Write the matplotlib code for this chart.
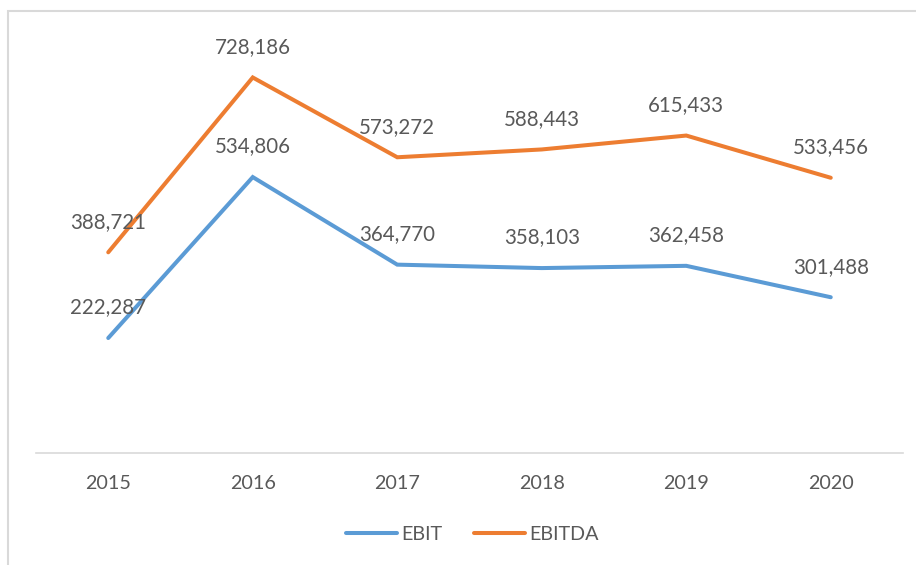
import matplotlib
matplotlib.use("Agg")
import matplotlib.pyplot as plt
from matplotlib.patches import Rectangle
from matplotlib.lines import Line2D

years = ["2015", "2016", "2017", "2018", "2019", "2020"]
ebit = [222287, 534806, 364770, 358103, 362458, 301488]
ebitda = [388721, 728186, 573272, 588443, 615433, 533456]

BLUE = "#5B9BD5"
ORANGE = "#ED7D31"
TEXT = "#595959"
FS = 14.2

plt.rcParams["font.family"] = ["Lato", "DejaVu Sans"]

fig = plt.figure(figsize=(9.16, 5.65), dpi=100)
ax = fig.add_axes([36 / 916, 1 - 452.5 / 565, (903 - 36) / 916, (452.5 - 40.5) / 565])

x = list(range(len(years)))
for vals, color in ((ebit, BLUE), (ebitda, ORANGE)):
    ax.plot(x, vals, color=color, lw=2.9, solid_capstyle="round", solid_joinstyle="miter")
    for xi, v in zip(x, vals):
        ax.annotate(f"{v:,}", (xi, v), xytext=(0, 22), textcoords="offset points",
                    ha="center", va="center", fontsize=14.8, color=TEXT)

ax.set_xlim(-0.5, len(years) - 0.5)
ax.set_ylim(0, 800000)
ax.set_xticks(x)
ax.set_xticklabels(years, fontsize=FS, color=TEXT)
ax.tick_params(axis="x", length=0, pad=16)
ax.set_yticks([])
for side in ("top", "right", "left"):
    ax.spines[side].set_visible(False)
ax.spines["bottom"].set_color("#D9D9D9")
ax.spines["bottom"].set_linewidth(1.2)

handles = [Line2D([], [], color=BLUE, lw=2.9, solid_capstyle="round"),
           Line2D([], [], color=ORANGE, lw=2.9, solid_capstyle="round")]
fig.legend(handles, ["EBIT", "EBITDA"], loc="center", bbox_to_anchor=(472 / 916, 1 - 534 / 565),
           ncol=2, frameon=False, fontsize=FS, labelcolor=TEXT, handlelength=2.6,
           handletextpad=0.2, columnspacing=1.6)

fig.patches.append(Rectangle((8 / 916, -0.05), 1.1, 0.05 + (565 - 11) / 565,
                             transform=fig.transFigure, fill=False,
                             edgecolor="#D9D9D9", lw=1.5))

fig.savefig("out.png", dpi=100)
